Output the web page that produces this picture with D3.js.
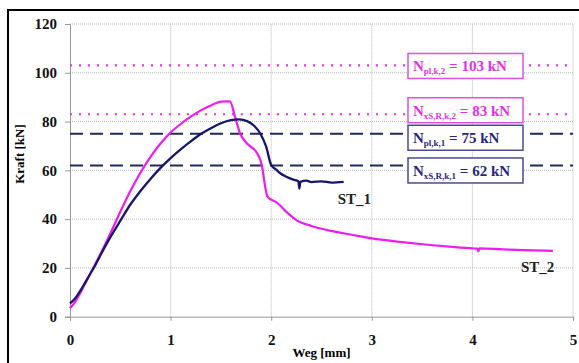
<!DOCTYPE html>
<html>
<head>
<meta charset="utf-8">
<script src="https://cdn.jsdelivr.net/npm/d3@7"></script>
<style>
  body { margin: 0; background: #fff; }
  svg text { font-family: 'Liberation Serif', 'DejaVu Serif', serif !important; font-weight: bold; }
</style>
</head>
<body>
<div id="chart"></div>
<script>
// ST_1 (navy) - Weg [mm], Kraft [kN]
const st1Weg   = [0, 0.05, 0.1, 0.15, 0.2, 0.25, 0.3, 0.4, 0.51, 0.6, 0.7, 0.8, 0.9, 1.0, 1.1, 1.2, 1.3, 1.4, 1.5, 1.6, 1.68, 1.76, 1.83, 1.89, 1.95, 2.0, 2.05, 2.09, 2.15, 2.22, 2.27, 2.28, 2.29, 2.35, 2.4, 2.5, 2.6, 2.72]
const st1Kraft = [5.5, 7.5, 10.5, 14, 17.5, 21, 25, 32.5, 40, 46, 51.5, 56.5, 61, 65, 68.6, 71.9, 74.9, 77.3, 79.3, 80.6, 80.9, 80.2, 78.3, 75.2, 69.7, 62.2, 60.3, 58.8, 57.4, 56.2, 55.5, 52.5, 55.3, 55.8, 55.2, 55.5, 55, 55.3]

// ST_2 (magenta)
const st2Weg   = [0, 0.05, 0.1, 0.15, 0.2, 0.25, 0.3, 0.4, 0.5, 0.6, 0.7, 0.8, 0.9, 1.0, 1.1, 1.2, 1.3, 1.4, 1.5, 1.59, 1.64, 1.69, 1.76, 1.86, 1.91, 1.94, 1.96, 2.0, 2.05, 2.15, 2.25, 2.4, 2.58, 2.8, 3.0, 3.3, 3.58, 3.8, 4.0, 4.05, 4.06, 4.07, 4.3, 4.6, 4.8]
const st2Kraft = [3.5, 6, 9.5, 13.5, 17.5, 21.5, 25.5, 34, 43, 51.5, 59, 65.5, 71, 75.5, 79, 82, 84.6, 86.6, 88.2, 88.3, 82, 75.2, 71, 67, 61.5, 53.3, 49.5, 48, 47, 43, 39.6, 37.2, 35.3, 33.6, 32.1, 30.6, 29.4, 28.6, 28, 27.9, 26.8, 28, 27.6, 27.2, 27]

// reference lines
const refValues = [103, 83, 75, 62]
const refSub    = ['pl,k,2', 'xS,R,k,2', 'pl,k,1', 'xS,R,k,1']
const refSeries = ['ST_2', 'ST_2', 'ST_1', 'ST_1']

const xTicks = [0, 1, 2, 3, 4, 5]
const yTicks = [0, 20, 40, 60, 80, 100, 120]

const W = 579, H = 363
const margin = { left: 70, right: 6, top: 24, bottom: 46.3 }
const serif = "'Liberation Serif', 'DejaVu Serif', serif"
const colors = { ST_1: '#16166a', ST_2: '#ee1cee' }
const refColors = { ST_1: '#1e2a5c', ST_2: '#ee33ee' }
const boxText = { ST_1: '#262680', ST_2: '#e82ee8' }

const svg = d3.select('#chart').append('svg')
  .attr('width', W)
  .attr('height', H)
  .attr('font-family', serif)

// outer frame (cut off at right and bottom)
svg.append('rect')
  .attr('x', 8).attr('y', 10)
  .attr('width', 640).attr('height', 400)
  .attr('fill', 'none')
  .attr('stroke', '#000')
  .attr('stroke-width', 2)

const x = d3.scaleLinear().domain([0, 5]).range([margin.left, W - margin.right])
const y = d3.scaleLinear().domain([0, 120]).range([H - margin.bottom, margin.top])

// grid
svg.append('g').selectAll('line')
  .data(yTicks.slice(1))
  .enter().append('line')
  .attr('x1', x(0)).attr('x2', x(5))
  .attr('y1', d => y(d)).attr('y2', d => y(d))
  .attr('stroke', '#b5b5b5')
  .attr('stroke-dasharray', '1,1')
svg.append('g').selectAll('line')
  .data(xTicks.slice(1))
  .enter().append('line')
  .attr('x1', d => x(d)).attr('x2', d => x(d))
  .attr('y1', y(0)).attr('y2', y(120))
  .attr('stroke', '#b5b5b5')
  .attr('stroke-dasharray', '1,1')

// axes
const xAxis = svg.append('g')
  .attr('transform', 'translate(0,' + y(0) + ')')
  .call(d3.axisBottom(x).tickValues(xTicks).tickFormat(d3.format('d')).tickSize(4).tickPadding(14))
const yAxis = svg.append('g')
  .attr('transform', 'translate(' + x(0) + ',0)')
  .call(d3.axisLeft(y).tickValues(yTicks).tickSize(5).tickPadding(8))
;[xAxis, yAxis].forEach(a => {
  a.attr('font-family', serif).attr('font-size', 15)
  a.select('.domain').attr('stroke', '#999')
  a.selectAll('.tick line').attr('stroke', '#999')
  a.selectAll('text').attr('fill', '#111')
})

svg.append('text')
  .attr('x', x(2.5)).attr('y', 357)
  .attr('text-anchor', 'middle')
  .style('font-size', '13px')
  .text('Weg [mm]')
svg.append('text')
  .attr('transform', 'translate(24,154)rotate(-90)')
  .attr('text-anchor', 'middle')
  .style('font-size', '13px')
  .text('Kraft [kN]')

// reference lines
svg.append('g').selectAll('line')
  .data(refValues)
  .enter().append('line')
  .attr('x1', x(0)).attr('x2', x(5))
  .attr('y1', d => y(d)).attr('y2', d => y(d))
  .attr('stroke', (d, i) => refColors[refSeries[i]])
  .attr('stroke-width', (d, i) => refSeries[i] === 'ST_2' ? 2.2 : 2)
  .attr('stroke-dasharray', (d, i) => refSeries[i] === 'ST_2' ? '2,7' : '13,7')

// curves
const line = d3.line().x(d => x(d[0])).y(d => y(d[1])).curve(d3.curveMonotoneX)
svg.append('path')
  .datum(d3.zip(st2Weg, st2Kraft))
  .attr('d', line)
  .attr('fill', 'none')
  .attr('stroke', colors.ST_2)
  .attr('stroke-width', 2.2)
  .attr('stroke-linejoin', 'round')
svg.append('path')
  .datum(d3.zip(st1Weg, st1Kraft))
  .attr('d', line)
  .attr('fill', 'none')
  .attr('stroke', colors.ST_1)
  .attr('stroke-width', 2.3)
  .attr('stroke-linejoin', 'round')

// series labels
svg.append('text')
  .attr('x', x(st1Weg[st1Weg.length - 1]) - 6).attr('y', 204)
  .style('font-size', '15px').attr('fill', '#222')
  .text('ST_1')
svg.append('text')
  .attr('x', 521).attr('y', 272)
  .style('font-size', '15px').attr('fill', '#222')
  .text('ST_2')

// label boxes
const boxShift = [0.5, -4, 4, 5]
const boxes = svg.append('g').selectAll('g')
  .data(refValues)
  .enter().append('g')
  .attr('transform', (d, i) => 'translate(408,' + (y(d) + boxShift[i] - 12.5) + ')')
boxes.append('rect')
  .attr('width', 115).attr('height', 25)
  .attr('fill', '#fff')
  .attr('stroke', (d, i) => refSeries[i] === 'ST_2' ? '#e050e0' : '#4a4a90')
  .attr('stroke-width', 1.5)
const t = boxes.append('text')
  .attr('x', 5).attr('y', 18)
  .attr('fill', (d, i) => boxText[refSeries[i]])
  .style('font-size', '15px')
t.append('tspan').text('N')
t.append('tspan')
  .attr('dy', 3)
  .style('font-size', '9px')
  .text((d, i) => refSub[i])
t.append('tspan')
  .attr('dy', -3)
  .text(d => ' = ' + d + ' kN')
</script>
</body>
</html>
